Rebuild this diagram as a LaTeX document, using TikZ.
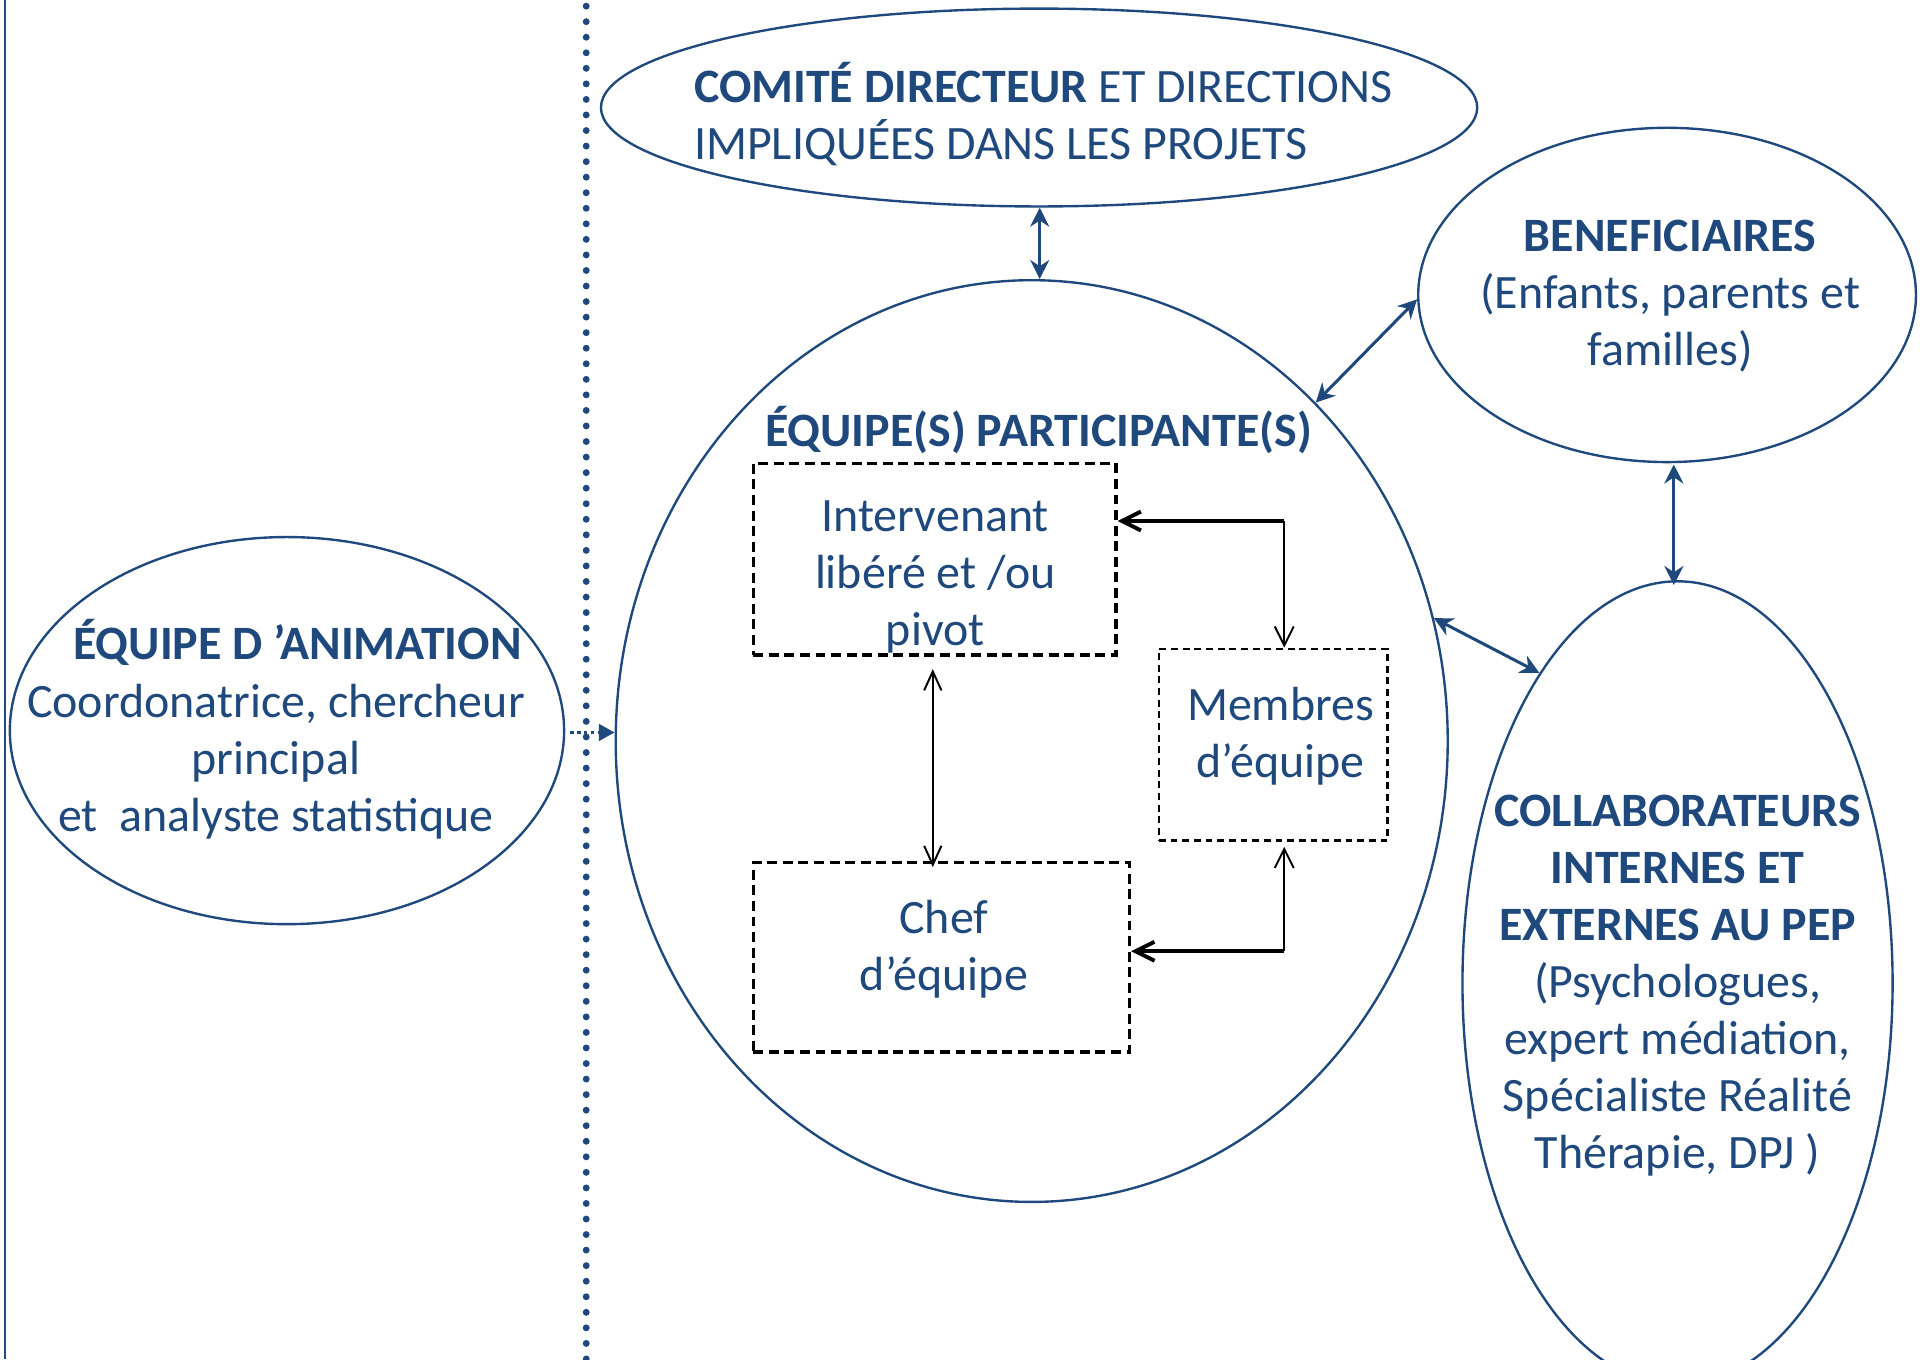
\documentclass[tikz,border=0pt]{standalone}
\usepackage{fontspec}
\setmainfont{Carlito}
\usetikzlibrary{arrows.meta,calc,positioning,shapes.geometric}
\definecolor{pepblue}{HTML}{1F497D}

\begin{document}
\begin{tikzpicture}[oval/.style   ={ellipse,draw=pepblue, line width=0.55pt, inner sep=0},
                    box/.style    ={rectangle,draw=black, dash pattern=on 2.3pt off 1.3pt, line width=0.8pt},
                    finebox/.style={rectangle,draw=black, dash pattern=on 1.6pt off 1.1pt, line width=0.6pt},
                    txt/.style    ={text=pepblue, align=center, inner sep=0, font=\fontsize{11.1}{13.2}\selectfont},
                    both/.style   ={{Stealth[length=4.4pt,width=4.4pt]}-{Stealth[length=4.4pt,width=4.4pt]}, draw=pepblue, line width=0.7pt},
                    barbs/.style  ={{Straight Barb[length=4.4pt,width=4pt]}-{Straight Barb[length=4.4pt,width=4pt]}, draw=black, line width=0.45pt},
                    barb/.style   ={-{Straight Barb[length=4.4pt,width=4.4pt]}, draw=black},
                    dots/.style   ={draw=pepblue, line width=1.6pt, line cap=round, dash pattern=on 0pt off 3.6pt}]

      \useasboundingbox (0,0) rectangle (15.68,-11.06);
      % separations
      \draw[pepblue, line width=0.3pt] (0.04,0) -- (0.04,-11.06);
      \path[dots] (4.77,-0.05) -- (4.77,-11.06);

      % ovals
      \node[oval, minimum width=7.13cm, minimum height=1.61cm] at (8.455,-0.875) (comite)  {};
      \node[oval, minimum width=6.77cm, minimum height=7.50cm] at (8.395,-6.03)  (equipe)  {};
      \node[oval, minimum width=4.05cm, minimum height=2.72cm] at (13.565,-2.40) (benef)   {};
      \node[oval, minimum width=3.50cm, minimum height=6.54cm] at (13.65,-8.00)  (collab)  {};
      \node[oval, minimum width=4.51cm, minimum height=3.15cm] at (2.335,-5.945) (anim)    {};

      % texts of the ovals
      \node[txt, anchor=west, align=left] at (5.64,-0.93) (comitetxt)
            {\textbf{COMITÉ DIRECTEUR} ET DIRECTIONS\\IMPLIQUÉES DANS LES PROJETS};
      \node[txt] at (8.45,-3.50)  (equipetxt) {\textbf{ÉQUIPE(S) PARTICIPANTE(S)}};
      \node[txt] at (13.59,-2.41) (beneftxt)  {\textbf{BENEFICIAIRES}\\(Enfants, parents et\\familles)};
      \node[txt] at (13.65,-8.02) (collabtxt)
            {\textbf{COLLABORATEURS}\\\textbf{INTERNES ET}\\\textbf{EXTERNES AU PEP}\\(Psychologues,\\expert médiation,\\Spécialiste Réalité\\Thérapie, DPJ )};
      \node[txt] at (2.42,-5.23)  (animtxt)   {\textbf{ÉQUIPE D ’ANIMATION}};
      \node[txt] at (2.245,-6.20) (animsub)   {Coordonatrice, chercheur\\principal\\et\ \ analyste statistique};

      % boxes of the team
      \node[box,     minimum width=2.95cm, minimum height=1.56cm] at (7.605,-4.55) (interv)  {};
      \node[finebox, minimum width=1.86cm, minimum height=1.56cm] at (10.36,-6.06) (membres) {};
      \node[box,     minimum width=3.06cm, minimum height=1.54cm] at (7.66,-7.79)  (chef)    {};
      \node[txt] at (7.61,-4.695) (intervtxt)  {Intervenant\\libéré et /ou\\pivot};
      \node[txt] at (10.42,-5.99) (membrestxt) {Membres\\d’équipe};
      \node[txt] at (7.68,-7.72)  (cheftxt)    {Chef\\d’équipe};

      % links between the ovals
      \path[both] (comite.south -| 8.46,0) -- (equipe.north -| 8.46,0);
      \path[both] (benef.181) -- (equipe.50.6);
      \path[both] ($(benef.south)+(0.055,-0.01)$) -- ($(collab.north)+(-0.03,-0.04)$);
      \path[both] (equipe.17.3) -- (collab.114.4);
      \path[draw=pepblue, line width=0.7pt, dash pattern=on 0.8pt off 0.8pt, -{Triangle[length=3.6pt,width=3.8pt]}]
            ($(anim.east)+(0.04,-0.015)$) -- ($(anim.east -| equipe.west)+(0,-0.015)$);

      % links inside the team
      \path[barbs] ($(interv.south)+(-0.015,-0.10)$) -- ($(chef.north -| interv.south)+(-0.015,-0.05)$);
      \coordinate (ctop) at ($(membres.north)+(0.09,1.03)$);
      \coordinate (cbot) at ($(membres.south)+(0.09,-0.89)$);
      \path[barb, line width=0.45pt] (ctop) -- ($(membres.north)+(0.09,0)$);
      \path[barb, line width=0.9pt]  (ctop) -- (ctop -| interv.east);
      \path[barb, line width=0.45pt] (cbot) -- ($(membres.south)+(0.09,-0.04)$);
      \path[barb, line width=0.9pt]  (cbot) -- (cbot -| chef.east);
\end{tikzpicture}
\end{document}
